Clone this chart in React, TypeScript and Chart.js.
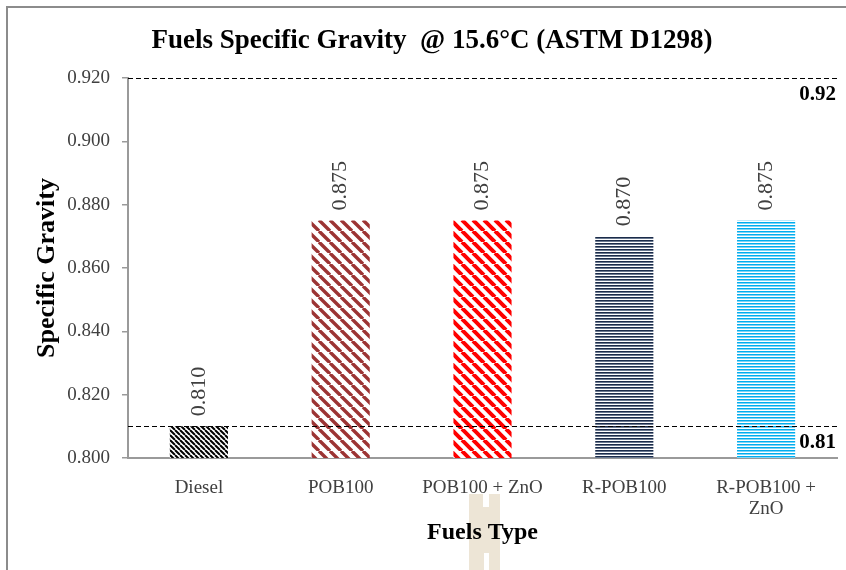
import React, { useEffect, useRef } from "react";
import { Chart, registerables } from "chart.js";

Chart.register(...registerables);

const categories: (string | string[])[] = ["Diesel", "POB100", "POB100 + ZnO", "R-POB100", ["R-POB100 +", "ZnO"]];
const specificGravity = [0.81, 0.875, 0.875, 0.87, 0.875];
const yMin = 0.8;
const yMax = 0.92;
const yStep = 0.02;
const refLines = [0.92, 0.81];
const refLabels = ["0.92", "0.81"];
const chartTitle = "Fuels Specific Gravity  @ 15.6°C (ASTM D1298)";
const yTitle = "Specific Gravity";
const xTitle = "Fuels Type";

const SERIF = "'Liberation Serif', 'Times New Roman', serif";

function diagPattern(color: string, size: number, width: number) {
  const c = document.createElement("canvas");
  c.width = size;
  c.height = size;
  const g = c.getContext("2d")!;
  g.fillStyle = "#ffffff";
  g.fillRect(0, 0, size, size);
  g.strokeStyle = color;
  g.lineWidth = width;
  g.beginPath();
  for (const o of [-size, 0, size]) {
    g.moveTo(o, 0);
    g.lineTo(o + size, size);
  }
  g.stroke();
  return g.createPattern(c, "repeat")!;
}

function rowPattern(rows: string[]) {
  const c = document.createElement("canvas");
  c.width = 4;
  c.height = rows.length;
  const g = c.getContext("2d")!;
  rows.forEach((col, i) => {
    g.fillStyle = col;
    g.fillRect(0, i, 4, 1);
  });
  return g.createPattern(c, "repeat")!;
}

export default function App() {
  const ref = useRef<HTMLCanvasElement>(null);

  useEffect(() => {
    if (!ref.current) return;
    const patterns = [
      diagPattern("#000000", 5, 2),
      diagPattern("#9c3434", 11, 3.4),
      diagPattern("#ff0000", 11, 4),
      rowPattern(["#1b2b49", "#6a7990", "#ffffff"]),
      rowPattern(["#00aeef", "#7fd3f5", "#ffffff"]),
    ];

    const overlay = {
      id: "overlay",
      afterDraw(chart: any) {
        const { ctx, chartArea } = chart;
        const y = chart.scales.y;
        ctx.save();
        // title
        ctx.fillStyle = "#000";
        ctx.font = `bold 27px ${SERIF}`;
        ctx.textAlign = "center";
        ctx.textBaseline = "alphabetic";
        ctx.fillText(chartTitle, 432, 48);
        // reference lines
        ctx.strokeStyle = "#000";
        ctx.lineWidth = 1;
        ctx.setLineDash([5, 3]);
        refLines.forEach((v, i) => {
          const py = Math.round(y.getPixelForValue(v)) + 0.5;
          ctx.beginPath();
          ctx.moveTo(chartArea.left, py);
          ctx.lineTo(chartArea.right, py);
          ctx.stroke();
          ctx.font = `bold 21px ${SERIF}`;
          ctx.textAlign = "right";
          ctx.textBaseline = "middle";
          ctx.fillText(refLabels[i], chartArea.right - 1, py + 16);
        });
        ctx.setLineDash([]);
        // value labels
        const meta = chart.getDatasetMeta(0);
        ctx.font = `22px ${SERIF}`;
        ctx.fillStyle = "#404040";
        ctx.textAlign = "left";
        ctx.textBaseline = "middle";
        meta.data.forEach((bar: any, i: number) => {
          ctx.save();
          ctx.translate(bar.x, bar.y - 10);
          ctx.rotate(-Math.PI / 2);
          ctx.fillText(specificGravity[i].toFixed(3), 0, 0);
          ctx.restore();
        });
        ctx.restore();
      },
    };

    const chart = new Chart(ref.current, {
      type: "bar",
      data: {
        labels: categories,
        datasets: [
          {
            data: specificGravity,
            backgroundColor: patterns as any,
            borderWidth: 0,
            barPercentage: 0.41,
            categoryPercentage: 1,
          },
        ],
      },
      plugins: [overlay],
      options: {
        responsive: false,
        animation: false,
        layout: { padding: { left: 0, right: 9, top: 78, bottom: 0 } },
        plugins: {
          legend: { display: false },
          title: { display: false },
          tooltip: { enabled: false },
        },
        scales: {
          x: {
            afterFit(scale: any) {
              scale.height = 112;
            },
            grid: { display: true, drawOnChartArea: false, drawTicks: false },
            border: { display: true, color: "#9a9a9a", width: 2 },
            ticks: {
              color: "#404040",
              padding: 20,
              maxRotation: 0,
              autoSkip: false,
              font: { family: SERIF, size: 19, lineHeight: 1.1 },
            },
            title: {
              display: true,
              text: xTitle,
              color: "#000",
              padding: { top: 0, bottom: 23 },
              font: { family: SERIF, size: 24, weight: "bold", lineHeight: 1.2 },
            },
          },
          y: {
            min: yMin,
            max: yMax,
            afterFit(scale: any) {
              scale.width = 128;
            },
            grid: { display: true, drawOnChartArea: false, drawTicks: true, tickLength: 6, color: "#9a9a9a", lineWidth: 1.5 },
            border: { display: true, color: "#9a9a9a", width: 2 },
            ticks: {
              stepSize: yStep,
              color: "#404040",
              padding: 12,
              font: { family: SERIF, size: 19 },
              callback: (v: any) => Number(v).toFixed(3),
            },
            title: {
              display: true,
              text: yTitle,
              color: "#000",
              padding: { top: 32, bottom: 0 },
              font: { family: SERIF, size: 26, weight: "bold", lineHeight: 1.2 },
            },
          },
        },
      },
    });
    return () => chart.destroy();
  }, []);

  return (
    <div style={{ position: "absolute", left: 0, top: 0, width: 846, height: 570, overflow: "hidden", background: "#fff" }}>
      <div style={{ position: "absolute", left: 6, top: 6, width: 900, height: 700, border: "2px solid #8c8c8c" }} />
      <div style={{ position: "absolute", left: 469, top: 494, width: 31, height: 76, background: "#ede5d6" }} />
      <div style={{ position: "absolute", left: 483, top: 494, width: 6, height: 13, background: "#fff" }} />
      <div style={{ position: "absolute", left: 484, top: 553, width: 5, height: 17, background: "#fff" }} />
      <canvas ref={ref} width={846} height={570} style={{ position: "absolute", left: 0, top: 0, display: "block" }} />
    </div>
  );
}
